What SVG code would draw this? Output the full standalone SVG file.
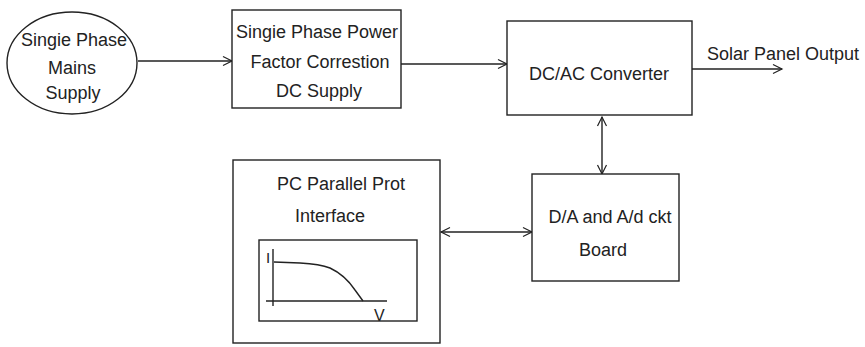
<svg xmlns="http://www.w3.org/2000/svg" width="865" height="347" viewBox="0 0 865 347">
<style>
.shape{fill:#fff;stroke:#222;stroke-width:1.4}
.line{fill:none;stroke:#222;stroke-width:1.4}
text{font-family:"Liberation Sans",Arial,sans-serif;font-size:18px;fill:#222}
.c{text-anchor:middle}
</style>
<defs>
<marker id="arr" viewBox="-10 -6 12 12" refX="0" refY="0" markerWidth="12" markerHeight="12" markerUnits="userSpaceOnUse" orient="auto-start-reverse">
<path d="M-9,-4.5 L0,0 L-9,4.5" fill="none" stroke="#222" stroke-width="1.2"/>
</marker>
</defs>
<rect width="865" height="347" fill="#fff"/>
<g id="connectors">
<line class="line" x1="138" y1="61" x2="232" y2="61" marker-end="url(#arr)"/>
<line class="line" x1="401" y1="64" x2="507" y2="64" marker-end="url(#arr)"/>
<line class="line" x1="692" y1="69" x2="782" y2="69" marker-end="url(#arr)"/>
<line class="line" x1="602" y1="117" x2="602" y2="174" marker-start="url(#arr)" marker-end="url(#arr)"/>
<line class="line" x1="441" y1="232" x2="532" y2="232" marker-start="url(#arr)" marker-end="url(#arr)"/>
</g>
<g id="mains">
<ellipse class="shape" cx="72" cy="63" rx="65" ry="51"/>
<text class="c" x="74" y="46">Singie Phase</text>
<text class="c" x="72" y="74">Mains</text>
<text class="c" x="73" y="99">Supply</text>
</g>
<g id="pfc">
<rect class="shape" x="232" y="10" width="169" height="98"/>
<text class="c" x="317" y="38">Singie Phase Power</text>
<text class="c" x="320" y="68">Factor Correstion</text>
<text class="c" x="319" y="97">DC Supply</text>
</g>
<g id="dcac">
<rect class="shape" x="507" y="21" width="185" height="94"/>
<text class="c" x="599" y="80">DC/AC Converter</text>
</g>
<g id="output">
<text x="707" y="60">Solar Panel Output</text>
</g>
<g id="da">
<rect class="shape" x="532" y="174" width="147" height="107"/>
<text class="c" x="610" y="223">D/A and A/d ckt</text>
<text class="c" x="603" y="256">Board</text>
</g>
<g id="pc">
<rect class="shape" x="233" y="160" width="207" height="183"/>
<text x="277" y="190">PC Parallel Prot</text>
<text x="295" y="222">Interface</text>
<rect class="shape" x="259" y="240" width="158" height="81"/>
<line class="line" x1="273" y1="249" x2="273" y2="306"/>
<line class="line" x1="266" y1="301" x2="387" y2="301"/>
<path class="line" d="M274,262 L300,263 Q320,264 330,268 Q345,275 355,290 L363,301"/>
<text x="266" y="263" style="font-size:15px">I</text>
<text x="374" y="321" style="font-size:16px">V</text>
</g>
</svg>
